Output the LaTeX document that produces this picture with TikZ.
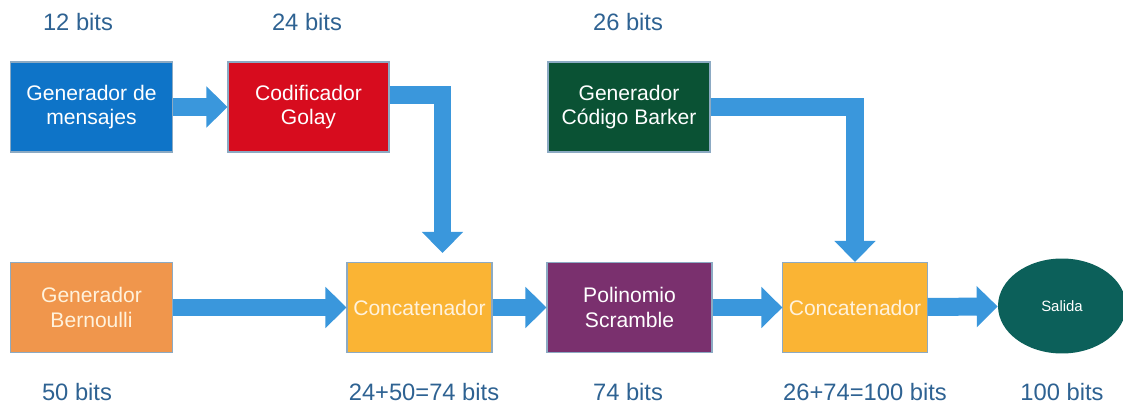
\documentclass[tikz,border=0pt]{standalone}
\usepackage{fontspec}
\setmainfont{Liberation Sans}
\usetikzlibrary{shapes.geometric, arrows.meta, positioning, calc}
\definecolor{flowblue}{RGB}{58, 151, 220}
\definecolor{msgblue}{RGB}{14, 116, 200}
\definecolor{golayred}{RGB}{215, 12, 30}
\definecolor{barkergreen}{RGB}{10, 82, 52}
\definecolor{bernorange}{RGB}{240, 150, 76}
\definecolor{catyellow}{RGB}{250, 180, 52}
\definecolor{polypurple}{RGB}{122, 48, 110}
\definecolor{outteal}{RGB}{12, 96, 90}
\definecolor{bitsblue}{RGB}{46, 98, 146}
\definecolor{edgegray}{RGB}{140, 170, 195}
\definecolor{cream}{RGB}{255, 242, 220}

\begin{document}
\begin{tikzpicture}[
    x=0.02cm, y=-0.02cm,
    block/.style={rectangle, draw=edgegray, line width=0.6pt, minimum width=3.24cm, minimum height=1.8cm, align=center, text=white, font=\fontsize{12}{14}\selectfont},
    catbox/.style={block, fill=catyellow, text=cream, minimum width=2.9cm},
    bits/.style={text=bitsblue, font=\fontsize{13.5}{16}\selectfont},
    flow/.style={draw=flowblue, line width=0.36cm, line join=miter, -{Triangle[width=0.8cm, length=0.42cm]}}
]
\useasboundingbox (0,0) rectangle (1123,405);

% Top row
\node (msg) [block, fill=msgblue] at (91.5,107) {Generador de\\mensajes};
\node (golay) [block, fill=golayred, minimum width=3.22cm] at (308.5,107) {Codificador\\Golay};
\node (barker) [block, fill=barkergreen] at (629,107) {Generador\\Código Barker};

% Bottom row
\node (bern) [block, fill=bernorange, text=cream] at (91.5,307.5) {Generador\\Bernoulli};
\node (cat1) [catbox] at (419.5,307.5) {Concatenador};
\node (poly) [block, fill=polypurple, minimum width=3.3cm] at (629.5,307.5) {Polinomio\\Scramble};
\node (cat2) [catbox, minimum width=2.88cm] at (855,307.5) {Concatenador};
\node (out) [ellipse, fill=outteal, minimum width=2.56cm, minimum height=1.9cm, text=white, font=\fontsize{8.5}{10}\selectfont] at (1062,306) {Salida};

% Arrows
\draw [flow] (msg) -- (golay);
\draw [flow, shorten >=0.18cm] ([yshift=0.24cm]golay.east) -| ([xshift=0.46cm]cat1.north);
\draw [flow] (barker.east) -| (cat2.north);
\draw [flow] (bern) -- (cat1);
\draw [flow] (cat1) -- (poly);
\draw [flow] (poly) -- (cat2);
\draw [flow] (cat2) -- (out);

% Bit counts
\node (b12) [bits] at (78,22) {12 bits};
\node (b24) [bits] at (307,22) {24 bits};
\node (b26) [bits] at (628,22) {26 bits};
\node (b50) [bits] at (77,392) {50 bits};
\node (b74a) [bits] at (424,392) {24+50=74 bits};
\node (b74b) [bits] at (628,392) {74 bits};
\node (b100a) [bits] at (865,392) {26+74=100 bits};
\node (b100b) [bits] at (1062,392) {100 bits};

\end{tikzpicture}
\end{document}
